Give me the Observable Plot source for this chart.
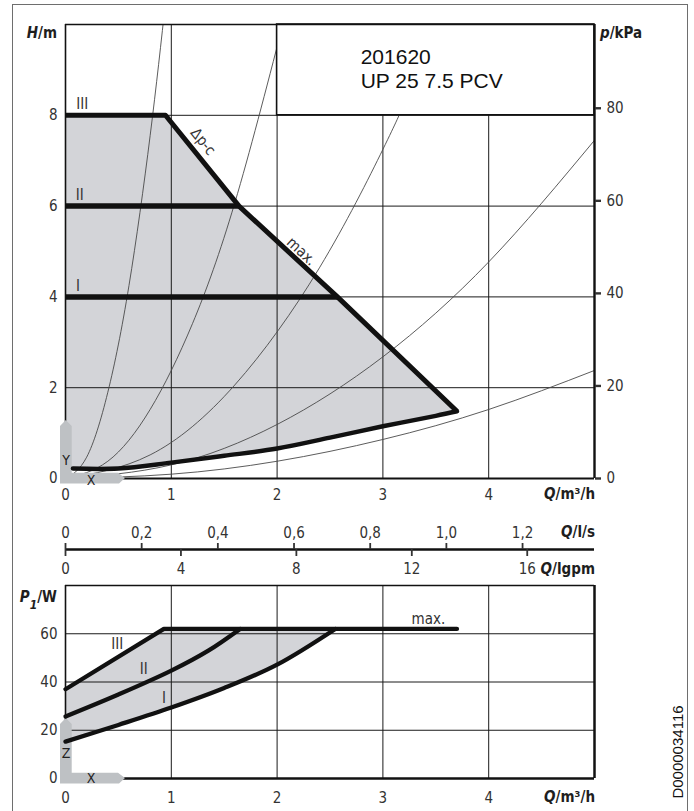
<!DOCTYPE html>
<html>
<head>
<meta charset="utf-8">
<script src="https://cdn.jsdelivr.net/npm/d3@7"></script>
<script src="https://cdn.jsdelivr.net/npm/@observablehq/plot@0.6"></script>
<style>
html,body{margin:0;padding:0;background:#fff;}
#wrap{position:relative;width:694px;height:811px;overflow:hidden;background:#fff;}
#border{position:absolute;left:12px;top:4px;width:676px;height:840px;border:1.5px solid #6e6e6e;box-sizing:border-box;}
.part{position:absolute;left:0;}
.part svg{display:block;overflow:visible;}
#docid{position:absolute;left:677px;top:752px;transform:translate(-50%,-50%) rotate(-90deg);font:15px "Liberation Sans",Arial,sans-serif;color:#111;white-space:nowrap;}
</style>
</head>
<body>
<div id="wrap">
<div id="border"></div>
<div id="topPart" class="part" style="top:0"></div>
<div id="midPart" class="part" style="top:509px"></div>
<div id="botPart" class="part" style="top:575px"></div>
<div id="docid">D0000034116</div>
</div>
<script>
const FONT = '"DejaVu Sans Condensed","DejaVu Sans",sans-serif';
const FS = 15;

// ---------- top chart (head) ----------
const qTicks = [0, 1, 2, 3, 4];
const qGrid = [1, 2, 3, 4];
const hTicks = [0, 2, 4, 6, 8];
const hGrid = [2, 4, 6, 8];
const pTicks = [0, 20, 40, 60, 80];           // kPa
const KPA_PER_M = 9.81;

// system curves (Q m3/h, H m)
const sys1 = [[0,0],[0.2,0.47],[0.4,1.9],[0.6,4.25],[0.8,7.55],[0.95,10.6]];
const sys2 = [[0,0],[0.4,0.38],[0.8,1.52],[1.2,3.41],[1.6,6.07],[2.05,9.96]];
const sys3 = [[0,0],[0.8,0.52],[1.6,2.06],[2.4,4.64],[3.0,7.25],[3.2,8.25]];
const sys4 = [[0,0],[1,0.3],[2,1.19],[3,2.68],[4,4.77],[5,7.45]];
const sys5 = [[0,0],[1,0.095],[2,0.38],[3,0.86],[4,1.52],[5,2.38]];

// pump curves
const envelope = [[0,8],[0.945,8],[1.64,6],[2.57,4],[3.7,1.48]];
const minCurve = [[3.7,1.48],[3.5,1.38],[3,1.15],[2.5,0.9],[2,0.66],[1.5,0.5],[1,0.35],[0.5,0.22],[0.07,0.22]];
const speedII = [[0,6],[1.64,6]];
const speedI = [[0,4],[2.57,4]];
const headArea = envelope.concat(minCurve.slice(1), [[0,0.22]]);

const speedLabels = [{t:"III", q:0.158, h:8}, {t:"II", q:0.135, h:6}, {t:"I", q:0.117, h:4}];
const curveLabels = [{t:"Δp-c", q:1.30, h:7.42, a:51}, {t:"max.", q:2.23, h:5.0, a:43}];
const infoBox = [{q1:2, q2:5, h1:8, h2:10}];
const boxText = [{t:"201620", q:2.79, h:9.134}, {t:"UP 25 7.5 PCV", q:2.79, h:8.605}];

// ---------- middle (flow unit scales) ----------
const lpsTicks = [0, 0.2, 0.4, 0.6, 0.8, 1.0, 1.2];
const gpmTicks = [0, 4, 8, 12, 16];
const M3H_PER_LPS = 3.6;
const M3H_PER_IGPM = 0.272765;

// ---------- bottom chart (power) ----------
const pwTicks = [0, 20, 40, 60];
const pwGrid = [20, 40, 60];
const powIII = [[0,37],[0.93,62],[3.7,62]];
const powII = [[0,25.7],[0.5,34.8],[1,44.7],[1.35,53],[1.65,62]];
const powI = [[0,15.3],[0.5,22.2],[1,29.4],[1.5,37.5],[2,47.2],[2.55,62]];
const powArea = [[0,37],[0.93,62],[2.55,62],[2,47.2],[1.5,37.5],[1,29.4],[0.5,22.2],[0,15.3]];
const powLabels = [{t:"III", q:0.49, p:55.7}, {t:"II", q:0.74, p:45.4}, {t:"I", q:0.93, p:33.3}, {t:"max.", q:3.43, p:66.2}];

const X = d => d[0], Y = d => d[1];

function richText(parts, {x, y, dx = 0, dy = 0, anchor = "start", size = FS}) {
  return (index, scales) => {
    const t = d3.create("svg:text")
      .attr("x", scales.x(x) + dx).attr("y", scales.y(y) + dy)
      .attr("dy", "0.35em").attr("text-anchor", anchor)
      .attr("font-size", size).attr("font-weight", "bold").attr("fill", "#1e1e1e");
    for (const [s, st] of parts) {
      const ts = t.append("tspan").text(s);
      if (st.includes("i")) ts.attr("font-style", "italic");
      if (st.includes("s")) ts.attr("baseline-shift", "sub").attr("font-size", size * 0.8);
    }
    return t.node();
  };
}

function cornerArrow(vLabel, hLabel, vLen, vOff, hOff) {
  return (index, scales) => {
    const x0 = scales.x(0), y0 = scales.y(0);
    const g = d3.create("svg:g");
    const pts = [[-5,5.5],[-5,-vLen+6],[0.8,-vLen],[6.7,-vLen+6],[6.7,-5.3],[53,-5.3],[60,0],[54,5.5]];
    g.append("path")
      .attr("d", "M" + pts.map(p => (x0 + p[0]) + "," + (y0 + p[1])).join("L") + "Z")
      .attr("fill", "#bec1c4");
    g.append("text").attr("x", x0 + 1).attr("y", y0 + vOff).attr("dy", "0.35em")
      .attr("text-anchor", "middle").attr("font-size", 14).attr("fill", "#222").text(vLabel);
    g.append("text").attr("x", x0 + 26).attr("y", y0 + hOff).attr("dy", "0.35em")
      .attr("text-anchor", "middle").attr("font-size", 14).attr("fill", "#222").text(hLabel);
    return g.node();
  };
}

const baseStyle = {fontFamily: FONT, fontSize: FS + "px", color: "#333", background: "transparent", overflow: "visible"};
const GRID = "#1a1a1a", INK = "#111";

// ---------- top ----------
const headChart = Plot.plot({
  width: 694, height: 509,
  marginLeft: 65, marginRight: 100, marginTop: 24, marginBottom: 31,
  x: {domain: [0, 5]}, y: {domain: [0, 10]},
  style: baseStyle,
  marks: [
    Plot.line(headArea, {x: X, y: Y, fill: "#d3d4d8", stroke: "none"}),
    Plot.ruleX(qGrid, {y1: 0, y2: 10, stroke: GRID, strokeWidth: 1}),
    Plot.ruleY(hGrid, {x1: 0, x2: 5, stroke: GRID, strokeWidth: 1}),
    ...[sys1, sys2, sys3, sys4, sys5].map(s =>
      Plot.line(s, {x: X, y: Y, curve: "natural", stroke: "#4a4a4a", strokeWidth: 0.9, clip: true})),
    Plot.rect(infoBox, {x1: "q1", x2: "q2", y1: "h1", y2: "h2", fill: "white", stroke: INK, strokeWidth: 1.6}),
    Plot.text(boxText, {x: "q", y: "h", text: "t", textAnchor: "start", lineAnchor: "bottom",
      fontSize: 21, fontFamily: '"Liberation Sans",Arial,sans-serif', fill: "#111"}),
    Plot.ruleX([0], {y1: 0, y2: 10, stroke: INK, strokeWidth: 1.6}),
    Plot.ruleY([10], {x1: 0, x2: 5, stroke: INK, strokeWidth: 1.6}),
    Plot.ruleY([0], {x1: 0, x2: 5, stroke: INK, strokeWidth: 2}),
    Plot.ruleX([5], {y1: 0, y2: 10, stroke: INK, strokeWidth: 2.4}),
    cornerArrow("Y", "X", 58, -18, 2),
    Plot.line(envelope, {x: X, y: Y, stroke: INK, strokeWidth: 5, strokeLinejoin: "round", strokeLinecap: "butt"}),
    Plot.line(minCurve, {x: X, y: Y, curve: "catmull-rom", stroke: INK, strokeWidth: 4.5, strokeLinejoin: "round", strokeLinecap: "round"}),
    Plot.line(speedII, {x: X, y: Y, stroke: INK, strokeWidth: 5.5, strokeLinecap: "butt"}),
    Plot.line(speedI, {x: X, y: Y, stroke: INK, strokeWidth: 5.5, strokeLinecap: "butt"}),
    Plot.text(speedLabels, {x: "q", y: "h", text: "t", dy: -11, fontSize: FS, fill: "#333"}),
    Plot.text(curveLabels, {x: "q", y: "h", text: "t", rotate: "a", fontSize: FS, fill: "#333"}),
    Plot.axisY(hTicks, {anchor: "left", tickSize: 0, tickPadding: 8, label: null, fontSize: FS}),
    Plot.axisY(pTicks.map(p => p / KPA_PER_M), {anchor: "right", tickSize: 6, tickPadding: 6, label: null,
      fontSize: FS, strokeWidth: 2.4, tickFormat: d => String(Math.round(d * KPA_PER_M))}),
    Plot.axisX(qTicks, {anchor: "bottom", tickSize: 0, tickPadding: 10.8, label: null, fontSize: FS}),
    richText([["H", "i"], ["/m", ""]], {x: 0, y: 10, dx: -8, dy: 9, anchor: "end"}),
    richText([["p", "i"], ["/kPa", ""]], {x: 5, y: 10, dx: 6, dy: 9, anchor: "start"}),
    richText([["Q", "i"], ["/m³/h", ""]], {x: 5, y: 0, dx: 1, dy: 16, anchor: "end"})
  ]
});
document.getElementById("topPart").append(headChart);

// ---------- middle ----------
const unitChart = Plot.plot({
  width: 694, height: 66,
  marginLeft: 65, marginRight: 100, marginTop: 39, marginBottom: 26,
  x: {domain: [0, 5]}, y: {domain: [0, 1], axis: null},
  style: baseStyle,
  marks: [
    Plot.ruleY([0], {x1: 0, x2: 5, stroke: INK, strokeWidth: 2.5}),
    Plot.axisX(lpsTicks.map(v => v * M3H_PER_LPS), {anchor: "top", tickSize: 6, tickPadding: 4.5, label: null,
      fontSize: FS, strokeWidth: 1.8,
      tickFormat: d => { const v = d / M3H_PER_LPS; return v < 1e-9 ? "0" : v.toFixed(1).replace(".", ","); }}),
    Plot.axisX(gpmTicks.map(v => v * M3H_PER_IGPM), {anchor: "bottom", tickSize: 7, tickPadding: 7.3, label: null,
      fontSize: FS, strokeWidth: 1.8, tickFormat: d => String(Math.round(d / M3H_PER_IGPM))}),
    richText([["Q", "i"], ["/l/s", ""]], {x: 5, y: 0, dx: 1, dy: -17, anchor: "end"}),
    richText([["Q", "i"], ["/lgpm", ""]], {x: 5, y: 0, dx: 1, dy: 19.5, anchor: "end"})
  ]
});
document.getElementById("midPart").append(unitChart);

// ---------- bottom ----------
const powerChart = Plot.plot({
  width: 694, height: 236,
  marginLeft: 65, marginRight: 100, marginTop: 10, marginBottom: 33,
  x: {domain: [0, 5]}, y: {domain: [0, 80]},
  style: baseStyle,
  marks: [
    Plot.line(powArea, {x: X, y: Y, fill: "#d3d4d8", stroke: "none"}),
    Plot.ruleX(qGrid, {y1: 0, y2: 80, stroke: GRID, strokeWidth: 1}),
    Plot.ruleY(pwGrid, {x1: 0, x2: 5, stroke: GRID, strokeWidth: 1}),
    Plot.ruleX([0], {y1: 0, y2: 80, stroke: INK, strokeWidth: 1.6}),
    Plot.ruleY([80], {x1: 0, x2: 5, stroke: INK, strokeWidth: 1.6}),
    Plot.ruleY([0], {x1: 0, x2: 5, stroke: INK, strokeWidth: 2.5}),
    Plot.ruleX([5], {y1: 0, y2: 80, stroke: INK, strokeWidth: 2.5}),
    cornerArrow("Z", "X", 60, -25, 0),
    Plot.line(powIII, {x: X, y: Y, stroke: INK, strokeWidth: 4.3, strokeLinejoin: "round", strokeLinecap: "round"}),
    Plot.line(powII, {x: X, y: Y, curve: "catmull-rom", stroke: INK, strokeWidth: 4.3, strokeLinecap: "round"}),
    Plot.line(powI, {x: X, y: Y, curve: "catmull-rom", stroke: INK, strokeWidth: 4.3, strokeLinecap: "round"}),
    Plot.text(powLabels, {x: "q", y: "p", text: "t", fontSize: FS, fill: "#333"}),
    Plot.axisY(pwTicks, {anchor: "left", tickSize: 0, tickPadding: 8, label: null, fontSize: FS}),
    Plot.axisX(qTicks, {anchor: "bottom", tickSize: 0, tickPadding: 13.8, label: null, fontSize: FS}),
    richText([["P", "i"], ["1", "is"], ["/W", ""]], {x: 0, y: 80, dx: -8, dy: 12, anchor: "end"}),
    richText([["Q", "i"], ["/m³/h", ""]], {x: 5, y: 0, dx: 1, dy: 19, anchor: "end"})
  ]
});
document.getElementById("botPart").append(powerChart);
</script>
</body>
</html>
